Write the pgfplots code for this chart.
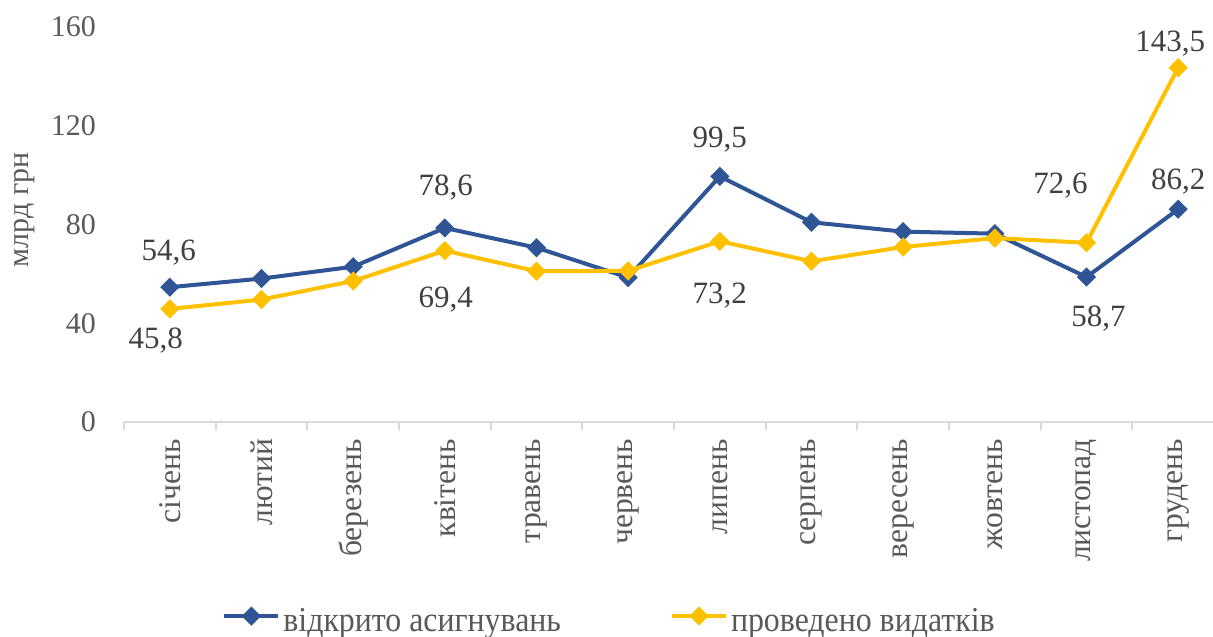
\documentclass[border=0pt]{standalone}
\usepackage{fontspec}
\setmainfont{Liberation Serif}
\usepackage{graphicx}
\usepackage{pgfplots}
\pgfplotsset{compat=1.18}
\definecolor{cblue}{HTML}{2F5597}
\definecolor{cyel}{HTML}{FFC000}
\definecolor{tgray}{HTML}{595959}
\definecolor{lgray}{HTML}{404040}
\definecolor{agray}{HTML}{D9D9D9}
\begin{document}
\begin{tikzpicture}
\begin{axis}[
 name=ax,
 scale only axis, width=544.5pt, height=197.5pt,
 xmin=-0.5, xmax=11.38, ymin=0, ymax=160,
 axis x line*=bottom, axis y line*=left,
 x axis line style={draw=agray, line width=1pt},
 y axis line style={draw=none},
 xtick={0,...,11},
 xticklabels={січень,лютий,березень,квітень,травень,червень,липень,серпень,вересень,жовтень,листопад,грудень},
 minor xtick={-0.5,0.5,...,11.5},
 ytick={0,40,...,160},
 major tick length=0pt, minor tick length=4pt,
 tick align=outside,
 every minor tick/.append style={draw=agray, line width=1pt},
 tick label style={font=\fontsize{15}{18}\selectfont, text=tgray},
 /pgf/number format/assume math mode=true,
 xticklabel style={yshift=-5pt, rotate=90, anchor=east, font=\fontsize{15.8}{18}\selectfont},
 yticklabel style={xshift=-10.5pt},
 ylabel={млрд грн},
 ylabel style={at={(axis description cs:-0.091,0.537)}, anchor=center, font=\fontsize{15}{18}\selectfont, text=tgray},
 clip=false,
 legend columns=2,
 legend cell align=left,
 legend image code/.code={\draw[mark repeat=2,mark phase=2,#1] plot coordinates {(0pt,2.5pt) (13.5pt,2.5pt) (27pt,2.5pt)};},
 legend style={at={(axis description cs:0.090,-0.504)}, anchor=west, draw=none, fill=none, inner sep=0pt,
   font=\fontsize{17.5}{20}\selectfont, text=tgray,
   nodes={inner xsep=1.5pt, inner ysep=0pt},
   /tikz/every even column/.append style={column sep=53pt}},
]
\addplot[cblue, line width=2pt, mark=square*, mark size=2.4pt, mark options={rotate=45, solid}] table {
x y
0 54.6
1 58.1
2 62.9
3 78.6
4 70.6
5 58.5
6 99.5
7 80.9
8 77.1
9 76.3
10 58.7
11 86.2
};
\addlegendentry{\scalebox{0.91}[1]{відкрито асигнувань}}
\addplot[cyel, line width=2pt, mark=square*, mark size=2.4pt, mark options={rotate=45, solid}] table {
x y
0 45.8
1 49.6
2 57.1
3 69.4
4 61.1
5 61.2
6 73.2
7 65.1
8 70.9
9 74.5
10 72.6
11 143.5
};
\addlegendentry{\scalebox{0.91}[1]{проведено видатків}}
\addplot[draw=none, forget plot, nodes near coords, point meta=explicit symbolic,
 visualization depends on={value \thisrow{dx}\as\dx},
 visualization depends on={value \thisrow{dy}\as\dy},
 every node near coord/.append style={anchor=center, xshift=\dx, yshift=\dy, font=\fontsize{15.5}{18}\selectfont, text=lgray}
] table[x=x,y=y,meta=lab] {
x y lab dx dy
0 54.6 54,6 -0.5 17.5
3 78.6 78,6 0.5 20
6 99.5 99,5 0 18.5
10 58.7 58,7 6 -20.5
11 86.2 86,2 0 14
};
\addplot[draw=none, forget plot, nodes near coords, point meta=explicit symbolic,
 visualization depends on={value \thisrow{dx}\as\dx},
 visualization depends on={value \thisrow{dy}\as\dy},
 every node near coord/.append style={anchor=center, xshift=\dx, yshift=\dy, font=\fontsize{15.5}{18}\selectfont, text=lgray}
] table[x=x,y=y,meta=lab] {
x y lab dx dy
0 45.8 45,8 -7 -16
3 69.4 69,4 0.5 -24.5
6 73.2 73,2 0 -27
10 72.6 72,6 -13 28.5
11 143.5 143,5 -4 12
};
\end{axis}
\pgfresetboundingbox
\path[use as bounding box] ([shift={(-62pt,-107pt)}]ax.south west) rectangle ([shift={(0pt,13.5pt)}]ax.north east);
\end{tikzpicture}
\end{document}
